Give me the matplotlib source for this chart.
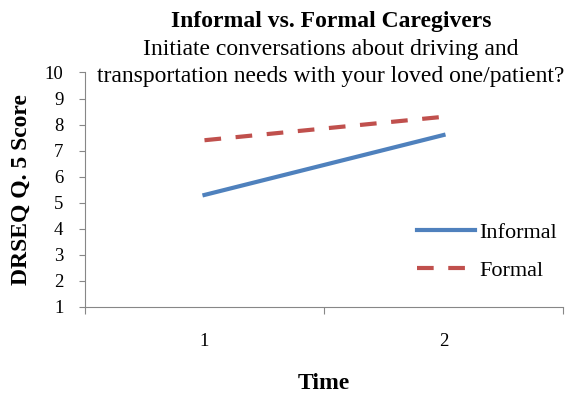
import matplotlib.pyplot as plt

plt.rcParams['font.family'] = ['Liberation Serif', 'DejaVu Serif']

times = [1, 2]
informal = [5.3, 7.6]
formal = [7.4, 8.3]

fig = plt.figure(figsize=(5.67, 3.95), dpi=100)
ax = fig.add_axes([0.1499, 0.2228, 0.8430, 0.5937])

# the two caregiver groups
ax.plot(times, informal, color='#4F81BD', lw=3, label='Informal')
ax.plot(times, formal, color='#C0504D', lw=3, ls=(0, (4, 3.5)), label='Formal')

ax.set_xlim(0.5, 2.5)
ax.set_ylim(1, 10)
ax.set_yticks(range(1, 11))
# ticks sit between the categories, labels on the categories
ax.set_xticks([0.5, 1.5, 2.5])
ax.set_xticklabels([])
ax.set_xticks(times, minor=True)
ax.set_xticklabels(['1', '2'], minor=True)
ax.tick_params(axis='x', which='minor', length=0, pad=19, labelsize=13.5)
ax.tick_params(axis='x', which='major', length=5, color='#878787')
ax.tick_params(axis='y', length=4, color='#878787', labelsize=13.5, pad=11.5)

for s in ['top', 'right']:
    ax.spines[s].set_visible(False)
for s in ['left', 'bottom']:
    ax.spines[s].set_color('#878787')

ax.set_ylabel('DRSEQ Q. 5 Score', fontweight='bold', fontsize=17, labelpad=9)
ax.set_xlabel('Time', fontweight='bold', fontsize=17, labelpad=16)

fig.text(0.584, 1 - 27 / 395, 'Informal vs. Formal Caregivers', ha='center',
         va='baseline', fontweight='bold', fontsize=17)
fig.text(0.584, 1 - 55 / 395, 'Initiate conversations about driving and', ha='center',
         va='baseline', fontsize=17)
fig.text(0.584, 1 - 82 / 395, 'transportation needs with your loved one/patient?',
         ha='center', va='baseline', fontsize=17)

ax.legend(loc='center left', bbox_to_anchor=(417 / 567, 1 - 251.5 / 395),
          bbox_transform=fig.transFigure, frameon=False, fontsize=16,
          borderpad=0, borderaxespad=0, handlelength=2.6, handletextpad=0.2,
          labelspacing=0.8)

fig.savefig('out.png', dpi=100)
